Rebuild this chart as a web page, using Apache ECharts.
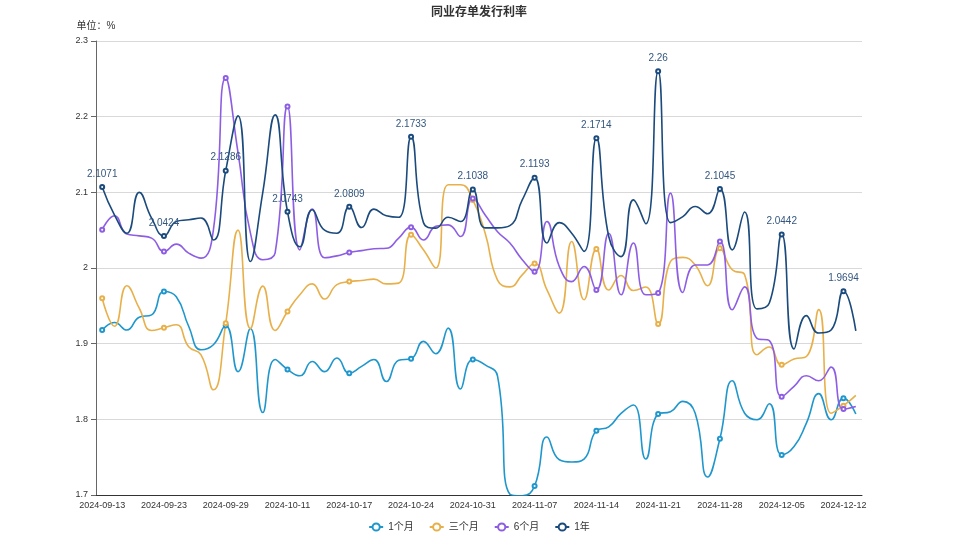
<!DOCTYPE html>
<html>
<head>
<meta charset="utf-8">
<script src="https://cdn.jsdelivr.net/npm/echarts@6/dist/echarts.min.js"></script>
<style>html,body{margin:0;padding:0;background:#fff;}#main{width:958px;height:539px;}</style>
</head>
<body>
<div id="main"></div>
<script>
const dates = ['2024-09-13','2024-09-14','2024-09-18','2024-09-19','2024-09-20','2024-09-23','2024-09-24','2024-09-25','2024-09-26','2024-09-27',
'2024-09-29','2024-09-30','2024-10-08','2024-10-09','2024-10-10','2024-10-11','2024-10-12','2024-10-14','2024-10-15','2024-10-16',
'2024-10-17','2024-10-18','2024-10-21','2024-10-22','2024-10-23','2024-10-24','2024-10-25','2024-10-28','2024-10-29','2024-10-30',
'2024-10-31','2024-11-01','2024-11-04','2024-11-05','2024-11-06','2024-11-07','2024-11-08','2024-11-11','2024-11-12','2024-11-13',
'2024-11-14','2024-11-15','2024-11-18','2024-11-19','2024-11-20','2024-11-21','2024-11-22','2024-11-25','2024-11-26','2024-11-27',
'2024-11-28','2024-11-29','2024-12-02','2024-12-03','2024-12-04','2024-12-05','2024-12-06','2024-12-09','2024-12-10','2024-12-11',
'2024-12-12','2024-12-13'];
const m1 = [1.918,1.928,1.918,1.935,1.938,1.969,1.962,1.923,1.892,1.8986,
1.924,1.863,1.92,1.809,1.879,1.866,1.8576,1.8765,1.863,1.881,
1.861,1.87,1.879,1.85,1.878,1.88,1.903,1.8867,1.9206,1.84,
1.879,1.872,1.857,1.701,1.699,1.712,1.7766,1.7466,1.7436,1.7475,
1.785,1.79,1.808,1.819,1.7475,1.807,1.81,1.8237,1.808,1.7238,
1.7744,1.851,1.808,1.7995,1.8206,1.753,1.764,1.795,1.834,1.7995,
1.828,1.807];
const m3 = [1.960,1.923,1.9765,1.947,1.9175,1.921,1.925,1.896,1.8853,1.839,
1.927,2.05,1.92,1.976,1.9175,1.9426,1.9646,1.979,1.959,1.978,
1.982,1.9835,1.9853,1.979,1.98,2.044,2.024,2.0,2.11,2.11,
2.09,2.046,1.984,1.975,1.991,2.006,1.971,1.9404,2.035,1.958,
2.025,1.971,1.99,1.9703,1.9748,1.926,2.0086,2.014,2.004,1.9765,
2.026,1.9976,1.991,1.8853,1.8955,1.872,1.8797,1.883,1.945,1.808,
1.818,1.8316];
const m6 = [2.0505,2.069,2.0448,2.0425,2.0395,2.0218,2.0316,2.0197,2.013,2.05,
2.251,2.152,2.046,2.011,2.02,2.2134,2.024,2.078,2.0135,2.016,
2.0205,2.023,2.0254,2.026,2.0395,2.054,2.037,2.055,2.057,2.0416,
2.092,2.07,2.048,2.033,2.011,1.995,2.0615,2.002,1.982,2.002,
1.971,2.046,1.9646,2.033,1.9646,1.967,2.099,1.9677,2.004,2.004,
2.035,1.9448,1.975,1.907,1.904,1.830,1.8435,1.8576,1.851,1.869,
1.8136,1.817];
const y1 = [2.1071,2.07,2.046,2.10,2.066,2.0424,2.0615,2.0637,2.066,2.037,
2.1286,2.201,2.0086,2.10,2.2024,2.0743,2.028,2.077,2.05,2.046,
2.0809,2.0535,2.0778,2.069,2.067,2.1733,2.06,2.0527,2.067,2.0615,
2.1038,2.053,2.053,2.056,2.09,2.1193,2.033,2.060,2.046,2.022,
2.1714,2.0416,2.015,2.09,2.0584,2.26,2.06,2.068,2.0813,2.0716,
2.1045,2.024,2.074,1.946,1.9536,2.0442,1.893,1.937,1.914,1.918,
1.9694,1.917];
const yTicks = [1.7, 2.3, 0.1];

const FONT = 'Liberation Sans, Noto Sans CJK SC, sans-serif';
const chart = echarts.init(document.getElementById('main'));
function line(name, data, color, withLabel) {
  return {
    name: name, type: 'line', data: data, smooth: true,
    symbol: 'emptyCircle', symbolSize: 4, showAllSymbol: false,
    lineStyle: { width: 1.6, color: color },
    itemStyle: { color: color, borderWidth: 1 },
    label: withLabel ? { show: true, position: 'top', fontSize: 10, fontFamily: FONT, color: '#34577f' } : { show: false }
  };
}
chart.setOption({
  animation: false,
  textStyle: { fontFamily: FONT },
  title: { text: '同业存单发行利率', left: 'center', top: 2,
    textStyle: { fontSize: 12, fontWeight: 'bold', color: '#333', fontFamily: FONT } },
  legend: { bottom: 2, itemWidth: 14, itemHeight: 9, itemGap: 15,
    textStyle: { fontSize: 10, color: '#333', fontFamily: FONT },
    data: ['1个月','三个月','6个月','1年'] },
  grid: { left: 96, right: 96, top: 41, bottom: 44 },
  xAxis: { type: 'category', data: dates, boundaryGap: true,
    axisLine: { lineStyle: { color: '#333' } },
    axisTick: { interval: 4, lineStyle: { color: '#333' } },
    axisLabel: { interval: 4, fontSize: 9, color: '#333', margin: 6, fontFamily: FONT } },
  yAxis: { type: 'value', min: yTicks[0], max: yTicks[1], interval: yTicks[2],
    name: '单位：%', nameGap: 10, nameTextStyle: { fontSize: 10, color: '#333', fontFamily: FONT },
    axisLine: { show: true, lineStyle: { color: '#666' } },
    axisTick: { show: true, lineStyle: { color: '#666' } },
    axisLabel: { fontSize: 9, color: '#333', fontFamily: FONT },
    splitLine: { lineStyle: { color: '#d9d9d9' } } },
  series: [
    line('1个月', m1, '#1f97cc', false),
    line('三个月', m3, '#e8b04a', false),
    line('6个月', m6, '#8d5ee4', false),
    line('1年', y1, '#1b4a7c', true)
  ]
});
</script>
</body>
</html>
